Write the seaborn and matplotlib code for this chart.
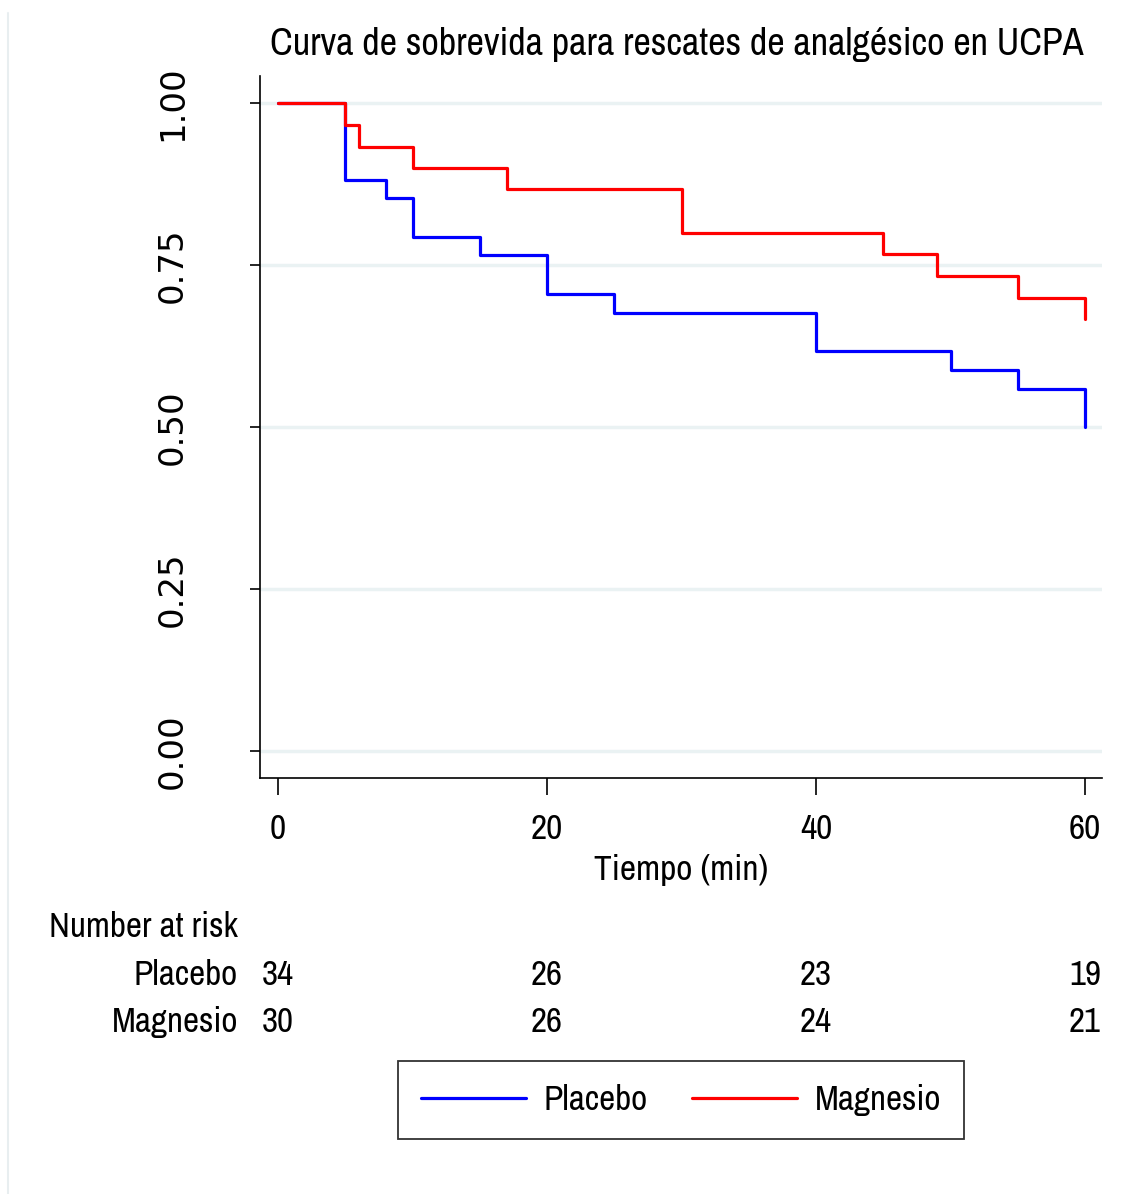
import pandas as pd
import seaborn as sns
import matplotlib.pyplot as plt
import matplotlib.transforms as mtransforms
from matplotlib.lines import Line2D

# Kaplan-Meier steps
placebo_time = [0, 5, 8, 10, 15, 20, 25, 40, 50, 55, 60]
placebo_surv = [1.0, 0.882, 0.853, 0.794, 0.765, 0.706, 0.676, 0.618, 0.588, 0.559, 0.5]
magnesio_time = [0, 5, 6, 10, 17, 30, 45, 49, 55, 60]
magnesio_surv = [1.0, 0.967, 0.933, 0.9, 0.867, 0.8, 0.767, 0.733, 0.7, 0.667]

risk_times = [0, 20, 40, 60]
risk_placebo = [34, 26, 23, 19]
risk_magnesio = [30, 26, 24, 21]

groups = ['Placebo', 'Magnesio']
colors = {'Placebo': '#0000ff', 'Magnesio': '#ff0000'}

df = pd.concat([
    pd.DataFrame({'t': placebo_time, 's': placebo_surv, 'grupo': 'Placebo'}),
    pd.DataFrame({'t': magnesio_time, 's': magnesio_surv, 'grupo': 'Magnesio'}),
])

sns.set_style('white')
plt.rcParams['font.family'] = ['Archivo Narrow', 'DejaVu Sans']
plt.rcParams['text.color'] = 'black'
plt.rcParams['xtick.color'] = 'black'
plt.rcParams['ytick.color'] = 'black'
plt.rcParams['axes.labelcolor'] = 'black'

fig = plt.figure(figsize=(11.26, 11.94), dpi=100)
ax = fig.add_axes([0.2309, 0.3484, 0.7478, 0.5879])

sns.lineplot(data=df, x='t', y='s', hue='grupo', hue_order=groups, palette=colors,
             drawstyle='steps-post', estimator=None, linewidth=2.3, legend=False, ax=ax)

ax.set_xlim(-1.34, 61.26)
ax.set_ylim(-0.042, 1.042)
ax.set_xticks([0, 20, 40, 60])
ax.set_yticks([0, 0.25, 0.5, 0.75, 1.0])
ax.set_yticklabels(['0.00', '0.25', '0.50', '0.75', '1.00'], rotation=90, va='center',
                   family=['DejaVu Sans'], fontsize=24.5)
ax.grid(axis='y', color='#eaf2f3', linewidth=2.5)
ax.set_axisbelow(True)
for sp in ['top', 'right']:
    ax.spines[sp].set_visible(False)
for sp in ['left', 'bottom']:
    ax.spines[sp].set_color('black')
    ax.spines[sp].set_linewidth(1.2)
ax.tick_params(axis='y', direction='out', length=7, width=1.2, pad=44, left=True)
ax.tick_params(axis='x', direction='out', length=12, width=1.2, pad=13, labelsize=25.5, bottom=True)
ax.set_xlabel('Tiempo (min)', fontsize=25.5, labelpad=7)
ax.set_ylabel('')
fig.text(677 / 1126, 1 - 45 / 1194, 'Curva de sobrevida para rescates de analgésico en UCPA',
         ha='center', va='center', fontsize=27.5)

# number at risk table
tr = mtransforms.blended_transform_factory(ax.transData, fig.transFigure)
fig.text(238 / 1126, 1 - 927 / 1194, 'Number at risk', ha='right', va='center', fontsize=25.3)
for name, vals, ypix in [('Placebo', risk_placebo, 975), ('Magnesio', risk_magnesio, 1022)]:
    fig.text(238 / 1126, 1 - ypix / 1194, name, ha='right', va='center', fontsize=25.3)
    for t, v in zip(risk_times, vals):
        ax.text(t, 1 - ypix / 1194, str(v), transform=tr, ha='center', va='center', fontsize=25.3)

handles = [Line2D([], [], color=colors[g], linewidth=2.3) for g in groups]
leg = fig.legend(handles, groups, loc='center', bbox_to_anchor=(681 / 1126, 1 - 1100 / 1194), ncol=2,
                 fontsize=25.3, frameon=True, fancybox=False, edgecolor='black',
                 handlelength=3.0, columnspacing=1.25, borderpad=0.65, handletextpad=0.5)
leg.get_frame().set_linewidth(1.3)

fig.add_artist(Line2D([8 / 1126, 8 / 1126], [0, 1 - 13 / 1194], transform=fig.transFigure,
                      color='#e8eef0', linewidth=1.5))

plt.savefig('out.png', dpi=100, facecolor='white')
plt.close()
